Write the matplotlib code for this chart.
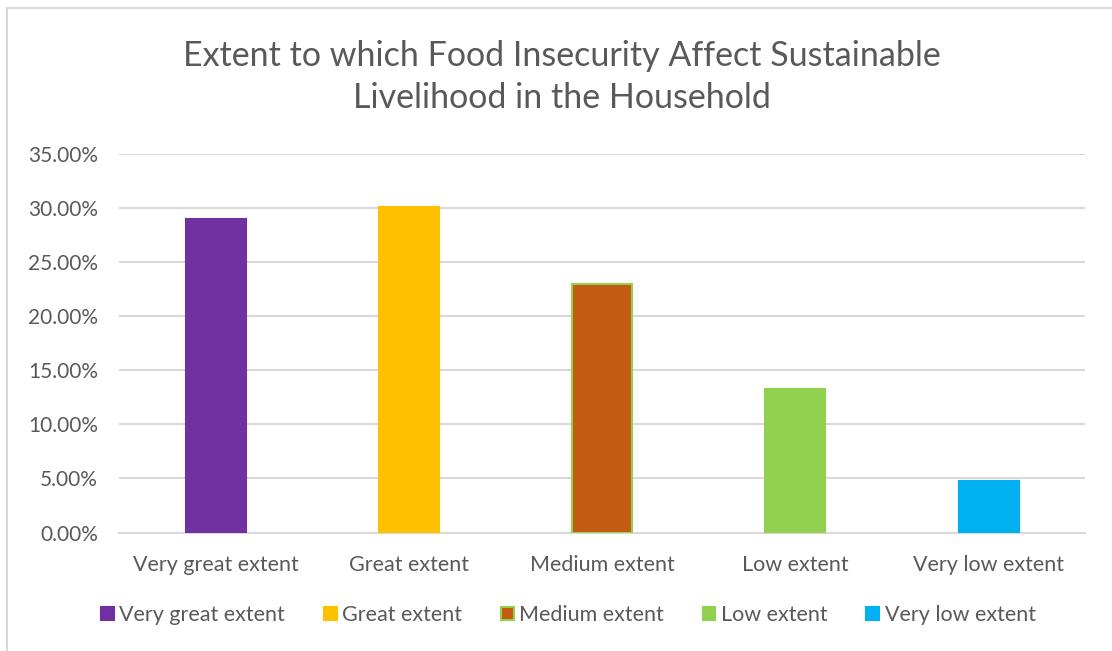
import matplotlib.pyplot as plt
from matplotlib.ticker import PercentFormatter
from matplotlib.lines import Line2D

categories = ["Very great extent", "Great extent", "Medium extent", "Low extent", "Very low extent"]
values = [29.0, 30.1, 23.0, 13.3, 4.8]
colors = ["#7030A0", "#FFC000", "#C55A11", "#92D050", "#00B0F0"]
edges = ["#7030A0", "#FFC000", "#92D050", "#92D050", "#00B0F0"]
yticks = [0, 5, 10, 15, 20, 25, 30, 35]

plt.rcParams["font.family"] = ["Lato", "DejaVu Sans"]
text_color = "#595959"
grid_color = "#D9D9D9"

fig = plt.figure(figsize=(11.12, 6.51), dpi=100)
ax = fig.add_axes([0.107, 0.182, 0.869, 0.581])

x = list(range(len(categories)))
bars = ax.bar(x, values, width=0.31, color=colors, edgecolor=edges, linewidth=1.5, zorder=3)

ax.set_xlim(-0.5, len(categories) - 0.5)
ax.set_ylim(0, 35)
ax.set_yticks(yticks)
ax.yaxis.set_major_formatter(PercentFormatter(decimals=2))
ax.set_xticks(x)
ax.set_xticklabels(categories)
ax.tick_params(axis="y", length=0, pad=15, labelsize=15, labelcolor=text_color)
ax.tick_params(axis="x", length=0, pad=16, labelsize=15.5, labelcolor=text_color)
ax.grid(axis="y", color=grid_color, linewidth=1.5, zorder=0)
for s in ["top", "right", "left"]:
    ax.spines[s].set_visible(False)
ax.spines["bottom"].set_color(grid_color)
ax.spines["bottom"].set_linewidth(1.5)

fig.text(0.505, 1 - 77 / 651, "Extent to which Food Insecurity Affect Sustainable\nLivelihood in the Household",
         ha="center", va="center", fontsize=24.5, color=text_color, linespacing=1.36)

handles = [plt.Rectangle((0, 0), 1, 1, facecolor=c, edgecolor=e, linewidth=1.5) for c, e in zip(colors, edges)]
leg = fig.legend(handles, categories, loc="center", bbox_to_anchor=(0.511, 1 - 615 / 651), ncol=5,
                 frameon=False, fontsize=15.5, handlelength=0.6, handleheight=0.6, handletextpad=0.25,
                 columnspacing=1.8)
for t in leg.get_texts():
    t.set_color(text_color)

# chart frame (only top and left visible in the crop)
fig.add_artist(Line2D([7 / 1112, 1], [1 - 8 / 651, 1 - 8 / 651], color=grid_color, linewidth=1.5))
fig.add_artist(Line2D([7 / 1112, 7 / 1112], [0, 1 - 8 / 651], color=grid_color, linewidth=1.5))

fig.savefig("out.png", dpi=100)
